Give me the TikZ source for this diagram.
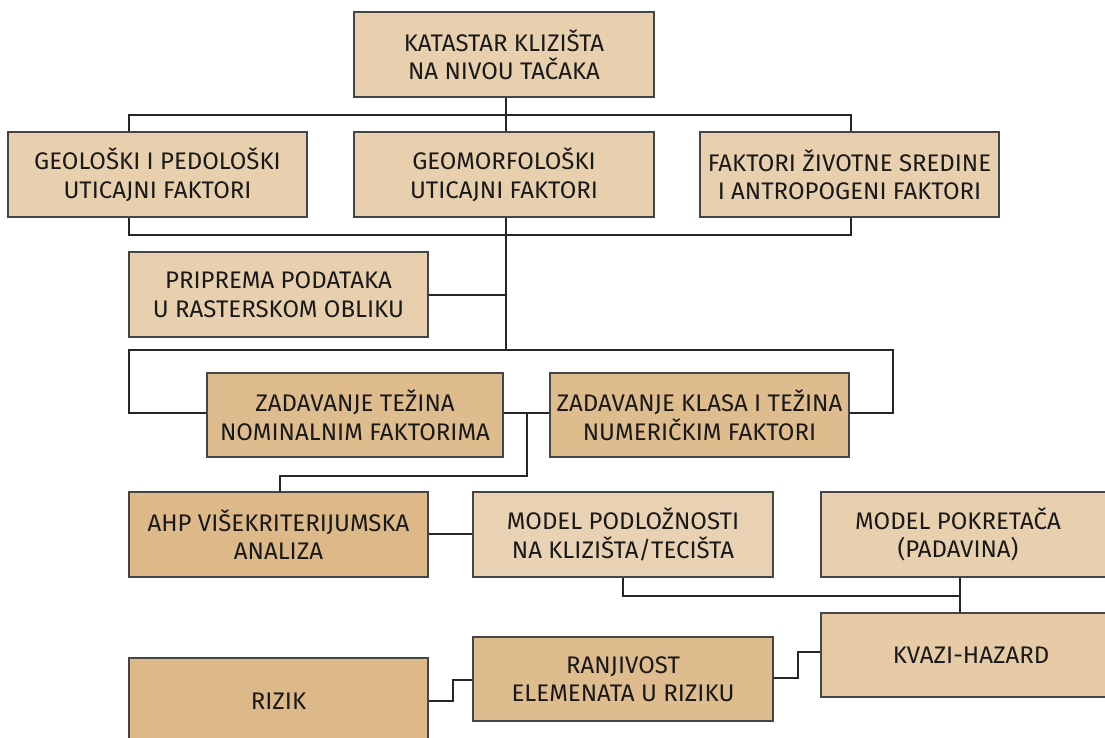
\documentclass[tikz,border=0pt]{standalone}
\usepackage{fontspec}
\setmainfont{Fira Sans}
\definecolor{clight}{HTML}{E8D0AF}
\definecolor{cpale}{HTML}{E9D2B3}
\definecolor{cmid}{HTML}{E6CBA6}
\definecolor{cdark}{HTML}{DFBC8D}
\definecolor{cdarker}{HTML}{DDB888}
\definecolor{edge}{HTML}{454545}
\tikzset{
  box/.style={draw=edge, line width=1.4pt, fill=clight, align=center, inner sep=0pt,
    minimum width=300pt, minimum height=85pt, text=black!90,
    font=\fontsize{24}{28.5}\selectfont},
  lbl/.style={align=center, inner sep=0pt, text=black!90, font=\fontsize{24}{28.5}\selectfont},
  conn/.style={draw=black!85, line width=1.2pt}
}
\begin{document}
\begin{tikzpicture}[x=1pt,y=-1pt]
\useasboundingbox (0,0) rectangle (1105,738);
\clip (0,0) rectangle (1105,738);
\coordinate (t1) at (129,115);
\coordinate (t2) at (851,115);
\coordinate (b1) at (129,235);
\coordinate (b2) at (851,235);
\coordinate (hub) at (506,350);
\coordinate (h1) at (129,350);
\coordinate (h2) at (893,350);
\coordinate (mid) at (527,413);
\coordinate (m2) at (527,476);
\coordinate (m3) at (280,476);
\coordinate (pj) at (960,596);

\node[box] (kat) at (504,54.5) {KATASTAR KLIZIŠTA\\NA NIVOU TAČAKA};
\node[box, minimum width=299pt] (geo) at (157.5,174.5) {GEOLOŠKI I PEDOLOŠKI\\UTICAJNI FAKTORI};
\node[box] (gem) at (504,174.5) {GEOMORFOLOŠKI\\UTICAJNI FAKTORI};
\node[box, minimum width=299pt] (fak) at (849.5,174.5) {FAKTORI ŽIVOTNE SREDINE\\I ANTROPOGENI FAKTORI};
\node[box, minimum width=299pt] (pri) at (278.5,294.5) {PRIPREMA PODATAKA\\U RASTERSKOM OBLIKU};
\node[box, fill=cdark, minimum width=296pt, minimum height=84pt] (zt) at (355,415) {ZADAVANJE TEŽINA\\NOMINALNIM FAKTORIMA};
\node[box, fill=cdark, minimum width=299pt, minimum height=84pt] (zk) at (699.5,415) {ZADAVANJE KLASA I TEŽINA\\NUMERIČKIM FAKTORI};
\node[box, fill=cdarker, minimum width=299pt] (ahp) at (278.5,534.5) {AHP VIŠEKRITERIJUMSKA\\ANALIZA};
\node[box, fill=cpale] (mpod) at (623,534.5) {MODEL PODLOŽNOSTI\\NA KLIZIŠTA/TECIŠTA};
\node[box] (mpok) at (971,534.5) {};
\node[lbl] (mpokt) at (958,534.5) {MODEL POKRETAČA\\(PADAVINA)};
\node[box, fill=cmid, minimum height=84pt] (kva) at (971,655) {KVAZI-HAZARD};
\node[box, fill=cdark, minimum height=84pt] (ran) at (623,679) {RANJIVOST\\ELEMENATA U RIZIKU};
\node[box, fill=cdarker, minimum width=299pt, minimum height=100pt] (riz) at (278.5,708) {};
\node[lbl] (rizt) at (278.5,701) {RIZIK};

\draw[conn] (kat.south -| hub) -- (gem.north -| hub);
\draw[conn] (geo.north -| t1) -- (t1) -- (t2) -- (fak.north -| t2);
\draw[conn] (geo.south -| b1) -- (b1) -- (b2) -- (fak.south -| b2);
\draw[conn] (gem.south -| hub) -- (hub);
\draw[conn] (pri.east |- 0,295) -- (506,295);
\draw[conn] (zt.west |- 0,413) -- (129,413) -- (h1) -- (h2) -- (893,413) -- (zk.east |- 0,413);
\draw[conn] (zt.east |- mid) -- (zk.west |- mid);
\draw[conn] (mid) -- (m2) -- (m3) -- (ahp.north -| m3);
\draw[conn] (ahp.east |- 0,534) -- (mpod.west |- 0,534);
\draw[conn] (mpod.south -| 623,0) -- (623,596) -- (pj);
\draw[conn] (mpok.south -| pj) -- (kva.north -| pj);
\draw[conn] (kva.west |- 0,652) -- (798,652) -- (798,678) -- (ran.east |- 0,678);
\draw[conn] (ran.west |- 0,680) -- (453,680) -- (453,701) -- (riz.east |- 0,701);
\end{tikzpicture}
\end{document}
